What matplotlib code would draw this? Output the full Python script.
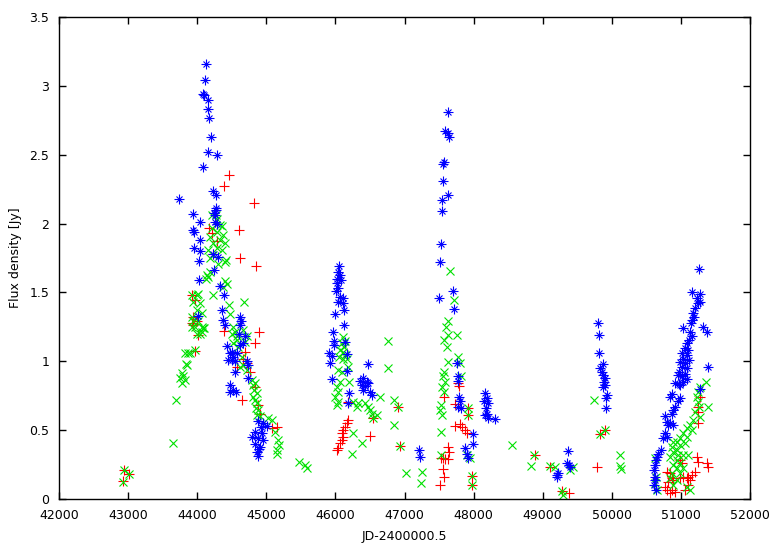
import matplotlib
matplotlib.use("Agg")
import matplotlib.pyplot as plt
from matplotlib.ticker import FuncFormatter

# ===============================
# Datos (JD, densidad de flujo en Jy)
# ===============================
azul_jd = [
    44130, 44120, 44090, 44100, 44150, 44160, 44175, 44195, 44155, 44290,
    44090, 44230, 44270, 43740, 44270, 43945, 44035, 44250, 44255, 43945,
    43950, 44045, 43955, 44040, 44020, 44245, 44030, 44330, 44395, 44270,
    44260, 44280, 44230, 44300, 44015, 44360, 44380, 44400, 44425, 44475,
    44500, 44520, 44620, 44635, 44620, 44610, 44690, 44665, 44620, 44500,
    44450, 44570, 44545, 44715, 44740, 44545, 44740, 44475, 44520, 44475,
    44560, 44884, 44956, 45005, 44836, 44933, 44884, 44956, 44836, 44908,
    44860, 44884, 44800, 44930, 44900,
    46056, 46042, 46066, 46018, 46076, 46027, 46042, 46008, 46066, 46114,
    46042, 46105, 46124, 45994, 46124, 45960, 45984, 45979, 46138, 45911,
    45946, 45921, 46163, 46172, 45955, 46200, 46186, 46467, 46356, 46404,
    46453, 46380, 46428, 46476, 46404, 46500, 46525, 47209, 47224,
    47633, 47585, 47623, 47643, 47571, 47561, 47561, 47623, 47538, 47547,
    47523, 47513, 47706, 47503, 47720, 47754, 47778, 47769, 47793, 47803,
    47778, 47812, 47995, 47986, 47875, 47899, 47923, 48164, 48189, 48154,
    48203, 48174, 48189, 48164, 48212, 48309,
    49370, 49346, 49384, 49394, 49225, 49200, 49210,
    49795, 49818, 49818, 49876, 49828, 49852, 49876, 49900, 49886, 49900,
    49876, 49925, 49915, 49915,
    51265, 51155, 51275, 51227, 51275, 51251, 51203, 51179, 51189, 51155,
    51145, 51025, 51323, 51381, 51131, 51155, 51120, 51092, 51058, 51106,
    51010, 51082, 51034, 51120, 50986, 51058, 51010, 51092, 50976, 51058,
    51010, 51082, 50961, 51034, 50976, 50914, 50986, 51391, 51275, 50865,
    50841, 50986, 50961, 50914, 50889, 50865, 50769, 50793, 50841, 50889,
    50817, 50769, 50793, 50745, 50707, 50672, 50649, 50639, 50624, 50610,
    50624, 50620, 50610, 50639,
]
azul_flujo = [
    3.16, 3.04, 2.94, 2.93, 2.90, 2.83, 2.77, 2.63, 2.52, 2.50,
    2.41, 2.24, 2.21, 2.18, 2.11, 2.07, 2.01, 2.08, 2.01, 1.95,
    1.94, 1.88, 1.82, 1.80, 1.73, 1.66, 1.59, 1.55, 1.48, 2.10,
    2.06, 2.00, 1.78, 1.76, 1.33, 1.37, 1.30, 1.26, 1.11, 1.06,
    1.01, 1.03, 1.32, 1.29, 1.26, 1.20, 1.18, 1.13, 1.12, 1.07,
    1.01, 1.06, 1.00, 1.00, 0.97, 0.92, 0.88, 0.83, 0.79, 0.78,
    0.78, 0.57, 0.55, 0.53, 0.49, 0.48, 0.44, 0.43, 0.40, 0.38,
    0.34, 0.31, 0.45, 0.52, 0.36,
    1.69, 1.65, 1.63, 1.60, 1.59, 1.57, 1.53, 1.51, 1.47, 1.46,
    1.43, 1.42, 1.37, 1.34, 1.26, 1.21, 1.15, 1.12, 1.14, 1.06,
    1.04, 0.985, 1.05, 0.93, 0.87, 0.77, 0.70, 0.98, 0.86, 0.88,
    0.85, 0.83, 0.82, 0.84, 0.79, 0.78, 0.755, 0.356, 0.307,
    2.81, 2.67, 2.66, 2.63, 2.45, 2.43, 2.31, 2.21, 2.17, 2.09,
    1.85, 1.72, 1.51, 1.46, 1.38, 0.985, 0.89, 0.86, 0.74, 0.71,
    0.67, 0.66, 0.47, 0.40, 0.37, 0.33, 0.30, 0.77, 0.73, 0.71,
    0.695, 0.66, 0.62, 0.61, 0.585, 0.58,
    0.35, 0.26, 0.25, 0.235, 0.19, 0.16, 0.175,
    1.28, 1.19, 1.06, 0.98, 0.95, 0.925, 0.90, 0.877, 0.85, 0.83,
    0.815, 0.755, 0.73, 0.66,
    1.67, 1.50, 1.49, 1.46, 1.43, 1.42, 1.385, 1.35, 1.32, 1.30,
    1.276, 1.24, 1.25, 1.215, 1.215, 1.18, 1.155, 1.13, 1.094, 1.08,
    1.06, 1.046, 1.02, 1.01, 0.997, 0.985, 0.96, 0.95, 0.925, 0.91,
    0.89, 0.875, 0.90, 0.85, 0.835, 0.84, 0.83, 0.956, 0.80, 0.76,
    0.74, 0.73, 0.71, 0.67, 0.646, 0.62, 0.60, 0.56, 0.55, 0.537,
    0.537, 0.477, 0.45, 0.44, 0.356, 0.33, 0.307, 0.283, 0.247, 0.21,
    0.162, 0.138, 0.10, 0.065,
]

verde_jd = [
    42930, 42945, 43013, 43645, 43688, 43776, 43800, 43776, 43823, 43751,
    43838, 43823, 43896, 43968,
    43920, 43992, 43943, 44040, 43992, 44065, 43920, 43943, 44015, 43968,
    44065, 43920, 43992, 44040, 44098, 44137, 44160, 44127, 44233, 44402,
    44426, 44378, 44209, 44330, 44209, 44282, 44378, 44185, 44330, 44233,
    44402, 44282, 44160, 44354, 44233, 44402, 44185, 44305, 44282, 44355,
    44270, 44412, 44185, 44465, 44475, 44015, 44522, 44547, 44571, 43871,
    43847, 44677, 44065, 44088, 44498, 44571, 44522, 44595, 44667, 44716,
    44692, 44643, 44667, 44716, 44620, 44788, 44812, 44836, 44826, 44860,
    44812, 44836, 44860, 44850, 44884, 44870, 44908, 45029, 45077, 45126,
    45174, 45188, 45159, 45150, 45477, 45560, 45584,
    46114, 46138, 46090, 46124, 46066, 46105, 46138, 46056, 46114, 46163,
    46186, 46042, 46090, 46200, 46066, 46018, 46042, 45994, 46042, 46018,
    46258, 46307, 46331, 46428, 46476, 46500, 46525, 46597, 46645, 46765,
    46765, 46848, 46901, 46539, 46848, 46258, 46380, 46244, 46934, 47020,
    47248, 47234,
    47658, 47720, 47623, 47594, 47633, 47576, 47610, 47754, 47623, 47778,
    47803, 47576, 47561, 47585, 47547, 47576, 47528, 47513, 47538, 47528,
    47913, 47923, 47817, 48560, 47528, 47899, 47947, 47971, 47971,
    48878, 48830, 49105, 49177, 49443, 49394, 49283, 49288, 49741, 49828,
    49900, 50118, 50118, 50128,
    51362, 51275, 51251, 51227, 51251, 51265, 51395, 51203, 51275, 51179,
    51131, 51155, 51082, 51034, 51082, 50986, 50938, 50889, 50865, 50986,
    51058, 50938, 50889, 50961, 51034, 51106, 50841, 50938, 50986, 50889,
    50938, 50865, 50986, 51034, 50841, 50938, 50889, 51082, 51131, 50624,
    50639, 50624, 50649,
]
verde_flujo = [
    0.126, 0.21, 0.18, 0.41, 0.72, 0.913, 0.89, 0.84, 0.864, 0.877,
    0.98, 1.06, 1.06, 1.08,
    1.48, 1.48, 1.43, 1.42, 1.37, 1.35, 1.32, 1.29, 1.29, 1.25,
    1.25, 1.25, 1.20, 1.20, 1.24, 1.63, 1.61, 1.60, 1.48, 1.58,
    1.56, 1.54, 2.06, 1.99, 1.966, 1.94, 1.917, 1.905, 1.88, 1.857,
    1.857, 1.82, 1.81, 1.81, 1.77, 1.72, 1.75, 1.71, 2.03, 1.98,
    2.06, 1.735, 1.65, 1.41, 1.34, 1.49, 1.25, 1.215, 1.18, 1.06,
    0.97, 1.43, 1.215, 1.24, 1.20, 1.155, 1.13, 1.106, 1.227, 1.18,
    1.14, 1.03, 0.97, 0.937, 0.96, 0.864, 0.83, 0.84, 0.79, 0.77,
    0.743, 0.72, 0.695, 0.66, 0.646, 0.61, 0.60, 0.586, 0.574, 0.49,
    0.43, 0.39, 0.356, 0.33, 0.27, 0.247, 0.223,
    1.174, 1.15, 1.13, 1.106, 1.08, 1.07, 1.046, 1.033, 1.02, 1.02,
    0.96, 0.937, 0.925, 0.85, 0.85, 0.815, 0.78, 0.743, 0.706, 0.683,
    0.706, 0.67, 0.695, 0.695, 0.67, 0.646, 0.62, 0.61, 0.743, 1.15,
    0.95, 0.72, 0.67, 0.586, 0.537, 0.477, 0.41, 0.33, 0.387, 0.187,
    0.198, 0.118,
    1.656, 1.445, 1.295, 1.25, 1.19, 1.155, 1.106, 1.19, 0.997, 1.03,
    0.985, 0.925, 0.89, 0.85, 0.815, 0.78, 0.683, 0.646, 0.61, 0.49,
    0.66, 0.61, 0.89, 0.392, 0.32, 0.32, 0.296, 0.10, 0.167,
    0.32, 0.24, 0.24, 0.235, 0.235, 0.21, 0.06, 0.03, 0.72, 0.47,
    0.50, 0.32, 0.24, 0.216,
    0.85, 0.815, 0.78, 0.743, 0.706, 0.67, 0.67, 0.634, 0.598, 0.574,
    0.537, 0.50, 0.513, 0.477, 0.452, 0.44, 0.416, 0.416, 0.38, 0.392,
    0.404, 0.356, 0.343, 0.32, 0.32, 0.32, 0.307, 0.283, 0.259, 0.247,
    0.223, 0.186, 0.186, 0.223, 0.15, 0.138, 0.10, 0.09, 0.065, 0.296,
    0.162, 0.114, 0.065,
]

rojo_jd = [
    42945, 43010, 42930,
    44465, 44392, 44826, 44605, 44620, 44850, 43920, 43968, 43943, 43920,
    43992, 43968, 43943, 44015, 44175, 44209, 44290, 44233, 44388, 44898,
    44836, 44643, 44692, 44658, 44716, 44571, 44764, 44836, 44884, 44908,
    45077, 45150,
    46186, 46186, 46163, 46138, 46114, 46090, 46114, 46090, 46066, 46042,
    46027, 46539, 46500, 46901, 46934,
    47778, 47793, 47576, 47730, 47913, 47913, 47730, 47803, 47836, 47875,
    47899, 47623, 47643, 47561, 47585, 47633, 47528, 47561, 47576, 47513,
    47971, 47971,
    48888, 49105, 49283, 49384, 49828, 49900, 49790,
    51275, 51251, 51251, 51251, 51227, 51251, 51371, 51395, 50986, 51010,
    50793, 50841, 50865, 50889, 50817, 50769, 50793, 50865, 50914, 50841,
    50986, 51034, 51082, 51106, 51131, 51155, 51203, 51106, 51058,
]
rojo_flujo = [
    0.21, 0.18, 0.13,
    2.35, 2.27, 2.15, 1.95, 1.75, 1.69, 1.48, 1.445, 1.32, 1.275,
    1.29, 1.077, 1.26, 1.19, 1.966, 1.93, 1.87, 1.78, 1.22, 1.21,
    1.135, 0.72, 1.065, 1.015, 0.99, 0.96, 0.925, 0.815, 0.683, 0.62,
    0.513, 0.525,
    0.706, 0.574, 0.55, 0.525, 0.50, 0.477, 0.452, 0.43, 0.404, 0.368,
    0.356, 0.586, 0.46, 0.67, 0.387,
    0.845, 0.82, 0.743, 0.69, 0.66, 0.61, 0.53, 0.545, 0.525, 0.50,
    0.477, 0.38, 0.343, 0.296, 0.288, 0.288, 0.296, 0.216, 0.162, 0.10,
    0.10, 0.167,
    0.32, 0.235, 0.06, 0.04, 0.47, 0.50, 0.23,
    0.743, 0.67, 0.634, 0.55, 0.307, 0.27, 0.259, 0.23, 0.283, 0.259,
    0.198, 0.186, 0.15, 0.138, 0.126, 0.09, 0.065, 0.065, 0.053, 0.041,
    0.15, 0.162, 0.15, 0.162, 0.138, 0.174, 0.198, 0.10, 0.065,
]

ticks_x = list(range(42000, 52001, 1000))
ticks_y = [0, 0.5, 1, 1.5, 2, 2.5, 3, 3.5]

# ===============================
# Figura
# ===============================
plt.rcParams['font.family'] = ['DejaVu Sans']
fig = plt.figure(figsize=(7.78, 5.45), dpi=100)
ax = fig.add_axes([59 / 778, 46 / 545, 691 / 778, 482 / 545])

ms = 6.5
mew = 0.8
ax.plot(rojo_jd, rojo_flujo, linestyle='none', marker='+', color='#ff0000',
        markersize=ms, markeredgewidth=mew)
ax.plot(verde_jd, verde_flujo, linestyle='none', marker='x', color='#00e000',
        markersize=ms * 0.8, markeredgewidth=mew)
ax.plot(azul_jd, azul_flujo, linestyle='none', marker='+', color='#0000ff',
        markersize=ms, markeredgewidth=mew)
ax.plot(azul_jd, azul_flujo, linestyle='none', marker='x', color='#0000ff',
        markersize=ms * 0.7, markeredgewidth=mew)

ax.set_xlim(42000, 52000)
ax.set_ylim(0, 3.5)
ax.set_xticks(ticks_x)
ax.set_yticks(ticks_y)
ax.yaxis.set_major_formatter(FuncFormatter(lambda v, p: f"{v:g}"))
ax.tick_params(direction='in', top=True, right=True, length=5, width=1,
               labelsize=9)
ax.tick_params(axis='x', pad=7)
ax.tick_params(axis='y', pad=7)
for s in ax.spines.values():
    s.set_linewidth(1)
ax.set_xlabel('JD-2400000.5', fontsize=9, labelpad=6)
ax.set_ylabel('Flux density [Jy]', fontsize=9, labelpad=5)

fig.savefig('out.png', dpi=100)
